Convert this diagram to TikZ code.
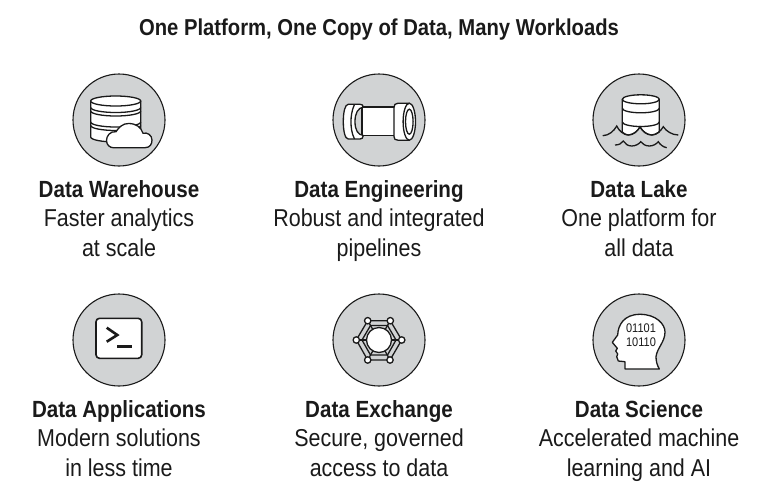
\documentclass[tikz,border=0pt]{standalone}
\usepackage{fontspec}
\setmainfont{Liberation Sans}[FakeStretch=0.88]
\usetikzlibrary{positioning}

\definecolor{discgray}{HTML}{D1D3D4}
\definecolor{inkblack}{HTML}{1A1A1A}

\newcommand{\itemhead}[1]{{\fontsize{23.4}{29.5}\selectfont\bfseries #1}}

\tikzset{
  disc/.style={circle, draw=inkblack, fill=discgray, line width=1.1pt, minimum size=92pt, inner sep=0pt},
  icon/.style={draw=inkblack, fill=white, line width=1.3pt, line join=round},
  wave/.style={draw=inkblack, line width=1.3pt},
  caption/.style={text=inkblack, align=center, anchor=north, inner sep=0pt, font=\fontsize{24.4}{29.5}\selectfont},
  headline/.style={text=inkblack, font=\fontsize{23}{25}\selectfont\bfseries, inner sep=0pt}
}

\begin{document}
\begin{tikzpicture}[x=1pt,y=-1pt]
  \useasboundingbox (0,0) rectangle (770,488);

  \node[headline] (title) at (379,30) {One Platform, One Copy of Data, Many Workloads};

  \node[disc] (warehouse) at (119,120) {};
  \node[disc] (engineering) at (379,120) {};
  \node[disc] (lake) at (639,120) {};
  \node[disc] (applications) at (119,340) {};
  \node[disc] (exchange) at (379,340) {};
  \node[disc] (science) at (639,340) {};

  \node[caption] (warehousetext) at (119,180) {\itemhead{Data Warehouse}\\Faster analytics\\at scale};
  \node[caption] (engineeringtext) at (379,180) {\itemhead{Data Engineering}\\Robust and integrated\\pipelines};
  \node[caption] (laketext) at (639,180) {\itemhead{Data Lake}\\One platform for\\all data};
  \node[caption] (applicationstext) at (119,400) {\itemhead{Data Applications}\\Modern solutions\\in less time};
  \node[caption] (exchangetext) at (379,400) {\itemhead{Data Exchange}\\Secure, governed\\access to data};
  \node[caption] (sciencetext) at (639,400) {\itemhead{Data Science}\\Accelerated machine\\learning and AI};

  % warehouse icon
  \begin{scope}[shift={(warehouse.center)}]
    \draw[icon] (-28.3,-19) -- (-28.3,17) arc[start angle=180,end angle=0,x radius=25,y radius=5] -- (21.7,-19) -- cycle;
    \draw[icon] (-3.3,-19) ellipse[x radius=25,y radius=5];
    \foreach \y in {-12.5,-9,2,5.5}
      \draw[wave] (-28.3,\y) arc[start angle=180,end angle=0,x radius=25,y radius=5];
    \draw[icon] (-5.7,27.7) -- (26,27.7) .. controls (31,27.7) and (33,24) .. (33,20)
      .. controls (33,15) and (28,12) .. (24,13.3) .. controls (22,7) and (17,3.5) .. (9.5,3.5)
      .. controls (4,3.5) and (0,7) .. (-3,11.7) .. controls (-9,11) and (-12.5,16) .. (-12.5,20.5)
      .. controls (-12.5,25) and (-9,27.7) .. cycle;
  \end{scope}

  % pipe icon
  \begin{scope}[shift={(engineering.center)}]
    \draw[icon] (-17,-13) -- (18,-13) -- (18,15.5) -- (-17,15.5) -- cycle;
    \draw[icon] (-30.7,-15.7) .. controls (-34,-15.7) and (-35.7,-8) .. (-35.7,1.7)
      .. controls (-35.7,11) and (-34,19) .. (-30.7,19) -- (-19,19) .. controls (-17,19) and (-16,18) .. (-15.7,15.5)
      .. controls (-21,15) and (-24,10) .. (-24,1.7) .. controls (-24,-7) and (-21,-12) .. (-15.7,-13)
      .. controls (-16,-15) and (-17,-15.7) .. (-19,-15.7) -- cycle;
    \draw[wave] (-24.5,-15.7) .. controls (-27.5,-9) and (-28,-3) .. (-28,1.7) .. controls (-28,7) and (-27.5,13) .. (-24.5,19);
    \draw[icon] (30.3,-16.8) -- (19,-16.8) .. controls (16,-16.8) and (15,-15) .. (15,-12.5) -- (15,16.5)
      .. controls (15,19) and (16,20.2) .. (19,20.2) -- (30.3,20.2) -- cycle;
    \draw[icon] (30.3,1.7) ellipse[x radius=6.2,y radius=18.5];
    \draw[wave] (30.3,1.7) ellipse[x radius=3.8,y radius=12.5];
  \end{scope}

  % lake icon
  \begin{scope}[shift={(lake.center)}]
    \draw[icon] (-16.7,-20.7) -- (-16.7,12) .. controls (-14,14.5) and (-12,15) .. (-10.7,15)
      .. controls (-6,15) and (-1,11) .. (1,6.7) .. controls (3,11) and (8,15) .. (12.7,15)
      .. controls (15,15) and (18,14) .. (20.3,12) -- (20.3,-20.7) -- cycle;
    \draw[icon] (1.8,-20.7) ellipse[x radius=18.5,y radius=4.5];
    \draw[wave] (-16.7,-11.7) arc[start angle=180,end angle=0,x radius=18.5,y radius=4.5];
    \draw[wave] (-16.7,2) arc[start angle=180,end angle=0,x radius=18.5,y radius=4.5];
    \draw[wave] (-36.3,15.7) .. controls (-30,15.5) and (-25,11) .. (-22.3,6)
      .. controls (-20,11) and (-15,15) .. (-10.7,15) .. controls (-6,15) and (-1,11) .. (1,6.7)
      .. controls (3,11) and (8,15) .. (12.7,15) .. controls (17,15) and (22,11) .. (24.3,6.7)
      .. controls (27,11) and (33,15) .. (39.3,15);
    \draw[wave] (-24,25) .. controls (-20,25) and (-17.5,23.5) .. (-15.7,21)
      .. controls (-14,24) and (-11,26) .. (-7.3,26) .. controls (-3.5,26) and (0,24) .. (1.7,21.7)
      .. controls (3.5,24) and (6.5,26) .. (10.3,26) .. controls (14,26) and (17.5,24) .. (19.3,21.7)
      .. controls (21,24.5) and (24,27) .. (27.7,27.7);
  \end{scope}

  % terminal icon
  \begin{scope}[shift={(applications.center)}]
    \draw[icon, line width=1.6pt, rounded corners=3.5pt] (-23,-21.7) rectangle (22.7,18.3);
    \draw[inkblack, line width=2.6pt] (-12.3,-12.3) -- (-1.7,-5) -- (-12.3,1.7);
    \draw[inkblack, line width=2.6pt] (-1.7,6.7) -- (12.7,6.7);
  \end{scope}

  % exchange icon
  \begin{scope}[shift={(exchange.center)}]
    \draw[wave] (-11.3,-19.3) -- (11.3,-19.3) -- (22.7,0) -- (11,20) -- (-11.3,20) -- (-22.7,0) -- cycle;
    \draw[wave] (-8.5,-14.5) -- (8.5,-14.5) -- (17,0) -- (8.5,15) -- (-8.5,15) -- (-17,0) -- cycle;
    \foreach \px/\py in {-11.3/-19.3,11.3/-19.3,22.7/0,11/20,-11.3/20,-22.7/0}
      \draw[wave] (\px,\py) -- (0,0);
    \foreach \px/\py in {-11.3/-19.3,11.3/-19.3,22.7/0,11/20,-11.3/20,-22.7/0}
      \draw[icon] (\px,\py) circle (3.2);
    \draw[icon] (0,0) circle (12.5);
  \end{scope}

  % head icon
  \begin{scope}[shift={(science.center)}]
    \draw[icon] (20.3,29) -- (-14,29) -- (-14,21.7) -- (-20.7,21) -- (-22.3,16.7) -- (-21.3,14) -- (-23.3,11) -- (-21.7,8.3)
      -- (-26.7,2.3) -- (-21.3,-5) .. controls (-21,-15) and (-15,-25.7) .. (1,-25.7)
      .. controls (17,-25.7) and (26,-16) .. (26,-8) .. controls (26,2) and (18,8) .. (17,16.7) .. controls (17,21) and (18,25) .. cycle;
    \node[text=inkblack, align=center, inner sep=0pt, font=\fontsize{12.5}{14}\selectfont] (bits) at (2,-4.5) {01101\\10110};
  \end{scope}
\end{tikzpicture}
\end{document}
